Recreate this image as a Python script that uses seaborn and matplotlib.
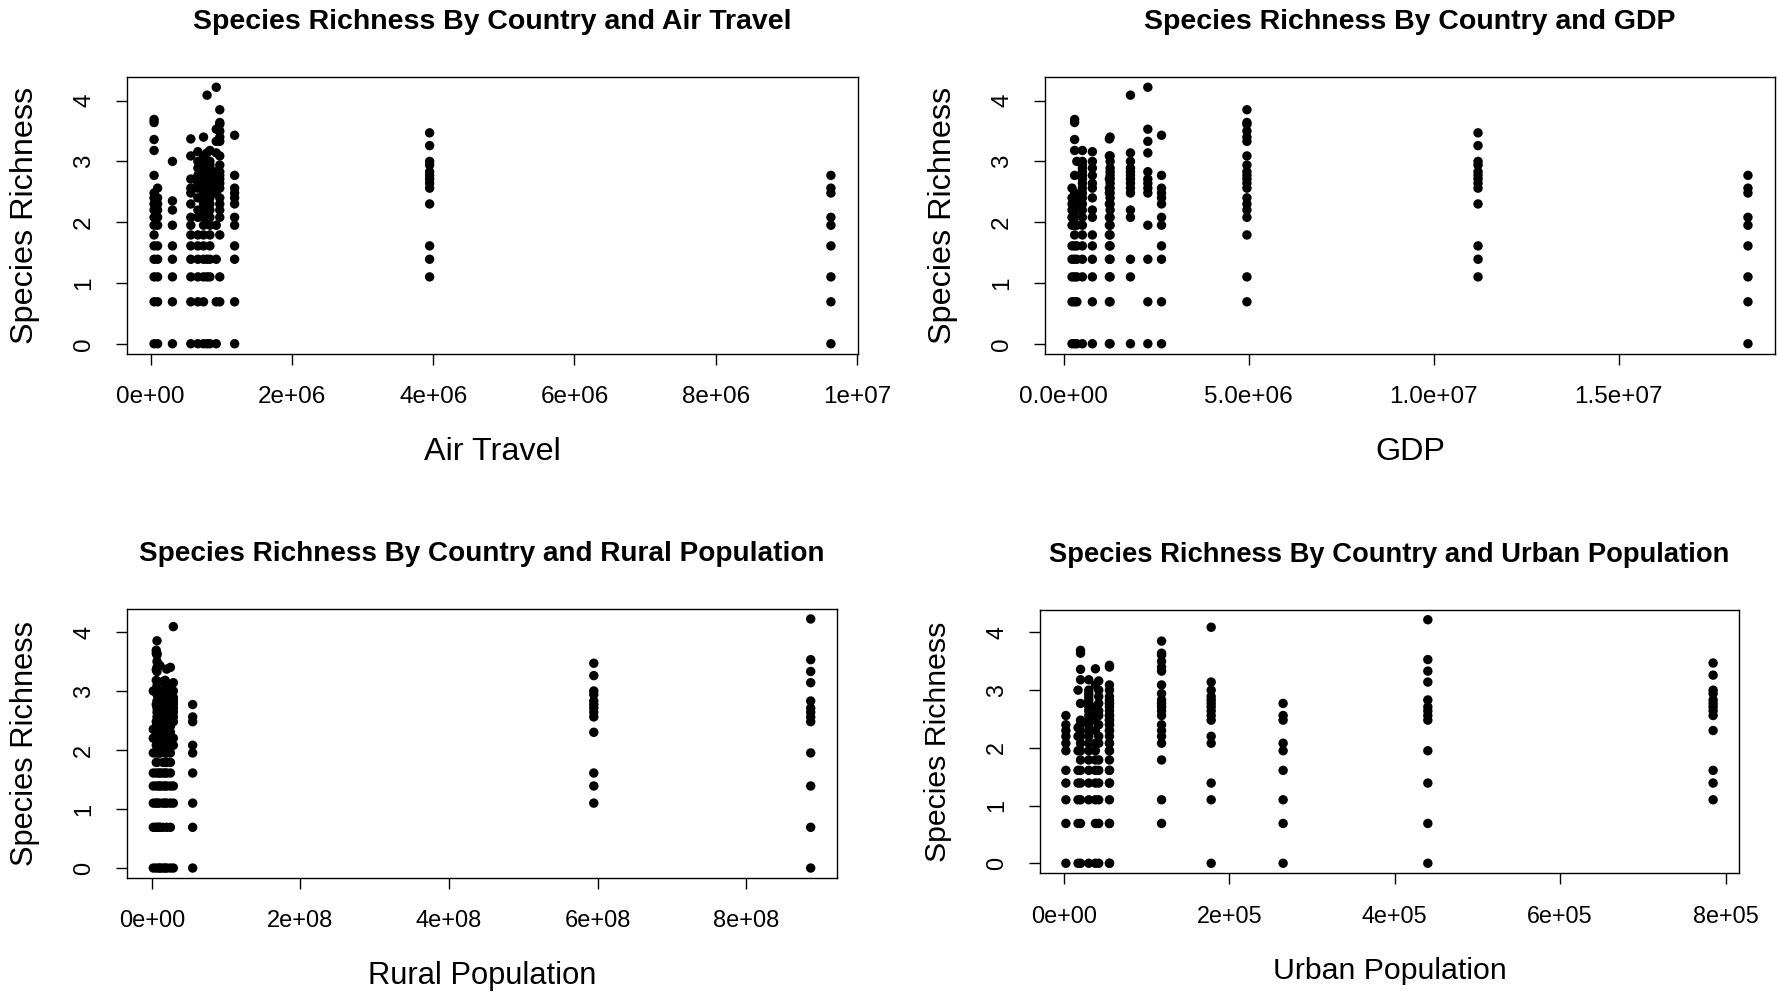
import pandas as pd
import seaborn as sns
import matplotlib
matplotlib.use("Agg")
import matplotlib.pyplot as plt
from matplotlib.ticker import FixedLocator, FuncFormatter

# --- DATA (one entry per country) ---
country = ["USA", "China", "India", "Brazil", "Japan", "UK",
           "C07", "C08", "C09", "C10", "C11", "C12", "C13"]
air_travel = [9.63e6, 3.95e6, 0.93e6, 0.80e6, 0.98e6, 1.19e6,
              0.05e6, 0.10e6, 0.31e6, 0.57e6, 0.67e6, 0.75e6, 0.84e6]
gdp = [1.85e7, 1.12e7, 2.27e6, 1.80e6, 4.95e6, 2.64e6,
       0.29e6, 0.22e6, 0.35e6, 1.23e6, 0.77e6, 1.25e6, 0.50e6]
rural_pop = [0.55e8, 5.95e8, 8.87e8, 0.29e8, 0.07e8, 0.11e8,
             0.06e8, 0.10e8, 0.02e8, 0.20e8, 0.15e8, 0.25e8, 0.18e8]
urban_pop = [2.65e5, 7.85e5, 4.40e5, 1.78e5, 1.18e5, 0.55e5,
             0.20e5, 0.023e5, 0.17e5, 0.38e5, 0.42e5, 0.55e5, 0.30e5]
richness = [
    [0, 0.69, 1.10, 1.61, 1.95, 2.08, 2.48, 2.56, 2.77],
    [1.10, 1.39, 1.61, 2.30, 2.56, 2.64, 2.71, 2.77, 2.83, 2.94, 3.00, 3.26, 3.47],
    [0, 0.69, 1.39, 1.95, 2.48, 2.56, 2.64, 2.71, 2.83, 3.14, 3.33, 3.53, 4.22],
    [0, 1.10, 1.39, 2.08, 2.20, 2.48, 2.56, 2.64, 2.71, 2.77, 2.83, 2.89, 3.00, 3.14, 4.09],
    [0.69, 1.10, 1.79, 2.08, 2.20, 2.30, 2.40, 2.56, 2.64, 2.71, 2.77, 2.83, 2.94,
     3.09, 3.33, 3.40, 3.50, 3.61, 3.64, 3.85],
    [0, 0.69, 1.39, 1.61, 1.95, 2.08, 2.30, 2.40, 2.48, 2.56, 2.77, 3.43],
    [0, 0.69, 1.10, 1.39, 1.61, 1.79, 1.95, 2.08, 2.20, 2.30, 2.40, 2.48, 2.77,
     3.18, 3.36, 3.64, 3.69],
    [0, 0.69, 1.10, 1.39, 1.61, 1.95, 2.08, 2.20, 2.30, 2.40, 2.56],
    [0, 0.69, 1.10, 1.39, 1.61, 1.95, 2.20, 2.35, 3.00],
    [0, 0.69, 1.10, 1.39, 1.61, 1.79, 1.95, 2.08, 2.30, 2.48, 2.56, 2.71, 3.09, 3.37],
    [0, 0.69, 1.10, 1.39, 1.61, 1.79, 2.08, 2.20, 2.40, 2.56, 2.64, 2.77, 2.89, 3.00, 3.16],
    [0, 0.69, 1.10, 1.39, 1.61, 1.79, 1.95, 2.08, 2.20, 2.30, 2.40, 2.48, 2.56,
     2.64, 2.71, 2.77, 2.83, 2.89, 3.00, 3.09, 3.40],
    [0, 1.10, 1.39, 1.61, 1.79, 1.95, 2.08, 2.20, 2.30, 2.40, 2.48, 2.56, 2.64,
     2.71, 2.77, 2.83, 2.89, 2.94, 3.00, 3.18],
]

y_ticks = [0, 1, 2, 3, 4]
air_ticks = [0, 2e6, 4e6, 6e6, 8e6, 1e7]
gdp_ticks = [0, 5e6, 1e7, 1.5e7]
rural_ticks = [0, 2e8, 4e8, 6e8, 8e8]
urban_ticks = [0, 2e5, 4e5, 6e5, 8e5]

rows = []
for i, name in enumerate(country):
    for r in richness[i]:
        rows.append({"country": name, "air": air_travel[i], "gdp": gdp[i],
                     "rural": rural_pop[i], "urban": urban_pop[i], "richness": r})
df = pd.DataFrame(rows)

sns.set_style("white")
plt.rcParams['font.family'] = ['Liberation Sans', 'DejaVu Sans']
plt.rcParams['text.color'] = 'black'

fig = plt.figure(figsize=(17.81, 9.94), dpi=100)
W, H = 1781, 994


def panel(box, col, title, xlabel, ticks, fmt, title_fs, lab_fs, tick_fs):
    x0, y0, x1, y1 = box
    ax = fig.add_axes([x0 / W, (H - y1) / H, (x1 - x0) / W, (y1 - y0) / H])
    sns.scatterplot(data=df, x=col, y="richness", ax=ax, color="black",
                    s=46, edgecolor="none", legend=False)
    ax.margins(0.04)
    ax.xaxis.set_major_locator(FixedLocator(ticks))
    ax.xaxis.set_major_formatter(FuncFormatter(lambda v, p: fmt % v))
    ax.yaxis.set_major_locator(FixedLocator(y_ticks))
    ax.tick_params(bottom=True, left=True, direction="out", length=8, width=1,
                   color="black", labelsize=tick_fs, labelcolor="black")
    ax.tick_params(axis="x", pad=15)
    ax.tick_params(axis="y", pad=15)
    plt.setp(ax.get_yticklabels(), rotation=90, va="center", ha="right")
    for s in ax.spines.values():
        s.set_color("black")
        s.set_linewidth(1.0)
    ax.set_xlabel("")
    ax.set_ylabel("")
    ax.annotate(title, xy=(0.5, 1), xycoords="axes fraction", xytext=(0, 55),
                textcoords="offset pixels", ha="center", va="center",
                fontsize=title_fs, fontweight="bold")
    ax.annotate(xlabel, xy=(0.5, 0), xycoords="axes fraction", xytext=(0, -98),
                textcoords="offset pixels", ha="center", va="center", fontsize=lab_fs)
    ax.annotate("Species Richness", xy=(0, 0.5), xycoords="axes fraction",
                xytext=(-102, 0), textcoords="offset pixels", ha="center",
                va="center", rotation=90, fontsize=lab_fs)
    return ax


panel((127, 77, 858, 354), "air", "Species Richness By Country and Air Travel",
      "Air Travel", air_ticks, "%.0e", 20.5, 23.3, 17.5)
panel((1045, 77, 1775, 354), "gdp", "Species Richness By Country and GDP",
      "GDP", gdp_ticks, "%.1e", 20.5, 23.3, 17.5)
panel((127, 609, 837, 878), "rural", "Species Richness By Country and Rural Population",
      "Rural Population", rural_ticks, "%.0e", 20.1, 22.2, 17)
panel((1040, 610, 1739, 873), "urban", "Species Richness By Country and Urban Population",
      "Urban Population", urban_ticks, "%.0e", 19.7, 21.8, 16.8)

fig.savefig("out.png", dpi=100, facecolor="white")
